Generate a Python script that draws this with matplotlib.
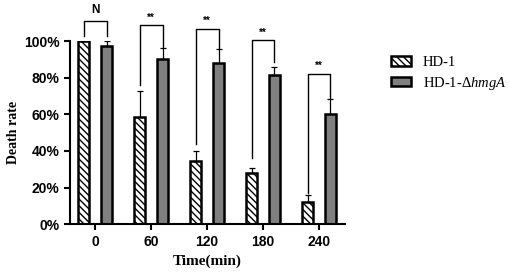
import matplotlib.pyplot as plt
import numpy as np

# donnees (pourcentages)
times = ['0', '60', '120', '180', '240']
hd1 = [100, 58.8, 34.4, 28, 11.9]
hd1_err = [0, 14, 5.7, 2.5, 3.8]
mut = [97.1, 90.5, 87.8, 81.4, 60.1]
mut_err = [3, 6, 8, 4.6, 8]
signif = ['N', '**', '**', '**', '**']
bracket_top = [111, 108.7, 106.6, 100.5, 82]
left_leg = [103, 76, 43.7, 36, 17]
right_leg = [103, 96.7, 96, 88.5, 69]

plt.rcParams['hatch.linewidth'] = 1.0
plt.rcParams['mathtext.fontset'] = 'custom'
plt.rcParams['mathtext.it'] = 'Liberation Serif:italic'
plt.rcParams['mathtext.rm'] = 'Liberation Serif'
fig = plt.figure(figsize=(5.1, 2.76), dpi=100)
ax = fig.add_axes([0.137, 0.188, 0.539, 0.663])

x = np.arange(len(times))
w = 0.2
off = 0.205
ax.bar(x - off, hd1, w, color='white', edgecolor='black', hatch='\\\\\\\\\\',
       linewidth=1.8, label='HD-1', zorder=2)
ax.bar(x + off, mut, w, color='#808080', edgecolor='black', linewidth=1.8,
       label='HD-1-$\\mathit{Δhmg A}$', zorder=2)
ax.errorbar(x - off, hd1, yerr=[np.zeros(5), hd1_err], fmt='none', ecolor='black',
            elinewidth=0.9, capsize=2.5, capthick=0.9, zorder=3)
ax.errorbar(x + off, mut, yerr=[np.zeros(5), mut_err], fmt='none', ecolor='black',
            elinewidth=0.9, capsize=2.5, capthick=0.9, zorder=3)

# crochets de significativite
for i in range(len(times)):
    xl, xr = x[i] - off, x[i] + off
    ax.plot([xl, xl, xr, xr], [left_leg[i], bracket_top[i], bracket_top[i], right_leg[i]],
            color='black', lw=1.0, clip_on=False)
    if signif[i] == 'N':
        ax.text(x[i], bracket_top[i] + 2.5, 'N', ha='center', va='bottom',
                fontsize=8.5, fontweight='bold', family='Liberation Sans')
    else:
        ax.text(x[i], bracket_top[i] + 1.5, signif[i], ha='center', va='bottom',
                fontsize=7, fontweight='bold', family='Liberation Sans')

ax.set_xlim(-0.45, 4.46)
ax.set_ylim(0, 100)
ax.set_xticks(x)
ax.set_xticklabels(times)
ax.set_yticks([0, 20, 40, 60, 80, 100])
ax.set_yticklabels(['0%', '20%', '40%', '60%', '80%', '100%'])
for lab in ax.get_xticklabels() + ax.get_yticklabels():
    lab.set_fontfamily('Liberation Sans')
    lab.set_fontweight('bold')
    lab.set_fontsize(10)
ax.tick_params(direction='out', length=4, width=1.5)
for s in ['top', 'right']:
    ax.spines[s].set_visible(False)
for s in ['left', 'bottom']:
    ax.spines[s].set_linewidth(1.5)

ax.set_xlabel('Time(min)', family='Liberation Serif', fontweight='bold', fontsize=11)
ax.set_ylabel('Death rate', family='Liberation Serif', fontweight='bold', fontsize=10,
              labelpad=3)

leg = ax.legend(loc='upper left', bbox_to_anchor=(1.12, 0.99), frameon=False,
                prop={'family': 'Liberation Serif', 'size': 10.5},
                handlelength=1.4, handleheight=0.6, labelspacing=0.4, handletextpad=0.8)

fig.savefig('out.png', dpi=100)
